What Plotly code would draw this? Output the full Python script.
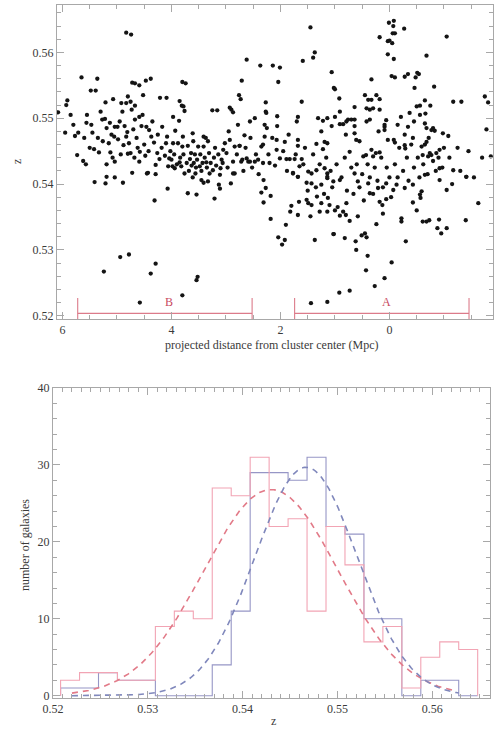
import numpy as np
import plotly.graph_objects as go

# ---------------- data: scatter (projected distance [Mpc], redshift) ----------------
dist = [
 4.83,4.74,2.62,5.65,5.36,4.47,4.38,4.72,4.67,4.59,3.80,3.74,2.71,5.48,5.39,4.80,4.52,4.21,4.09,5.91,
 5.93,6.08,5.07,5.21,4.92,4.83,4.75,2.76,2.73,4.67,4.73,3.85,3.81,3.78,3.76,3.25,3.16,2.93,2.90,2.87,
 4.59,4.67,4.53,3.97,3.86,5.27,5.22,5.13,5.56,5.19,5.04,4.99,5.71,5.77,5.45,
 5.73,5.62,5.57,5.42,5.26,5.12,5.19,5.04,5.05,4.81,4.83,4.88,4.80,4.75,4.72,4.58,4.59,4.46,4.41,4.37,
 4.26,4.29,4.45,4.17,4.08,3.97,4.04,4.06,3.98,3.94,3.85,3.82,3.76,3.93,3.79,3.80,3.60,3.64,3.61,3.51,
 3.41,3.41,3.37,3.33,3.59,3.48,3.36,3.30,3.24,3.11,3.10,3.06,2.99,3.05,2.93,2.84,2.75,2.66,2.87,2.84,
 2.72,2.59,
 5.41,5.21,5.19,5.04,4.89,4.43,4.29,4.07,4.31,3.70,3.54,3.61,3.56,3.45,3.41,3.33,3.21,3.13,3.11,2.91,
 2.87,5.24,4.94,4.78,4.29,4.38,3.52,3.54,3.80,4.58,
 1.45,0.01,-0.08,-0.07,-0.27,-0.06,-0.10,0.18,0.03,0.00,-0.05,-1.05,1.37,1.40,1.59,0.03,-0.08,-0.68,
 2.37,2.14,2.01,1.06,-0.04,-0.10,-0.28,-0.34,-0.48,-0.51,-0.54,0.33,2.04,-0.82,-0.46,1.02,1.00,0.92,
 2.27,1.61,-1.17,-1.32,-1.75,-1.81,0.45,0.24,0.39,0.33,0.18,-0.65,-0.56,-0.75,-0.50,0.64,0.30,0.36,
 0.42,0.18,0.91,2.27,2.26,2.56,2.47,2.06,2.06,1.68,1.31,1.22,1.14,1.00,0.76,0.70,0.64,-0.21,-0.37,
 -0.56,-0.66,0.85,0.64,0.42,0.36,0.06,0.09,-0.34,-0.65,-0.68,-0.80,-0.83,-0.98,-1.08,-1.78,-1.86,
 2.29,2.25,2.75,2.70,2.35,2.32,2.29,2.07,2.07,1.92,1.68,1.68,1.34,1.19,1.14,1.22,1.06,0.91,0.79,
 0.64,0.61,0.73,0.48,0.43,0.33,0.30,0.25,0.18,0.09,0.09,0.03,-0.08,-0.10,-0.28,-0.28,-0.29,-0.43,
 -0.59,-0.65,-0.68,-0.74,-0.77,-0.77,-0.86,-0.92,-0.71,-0.61,-1.17,-1.41,-0.92,2.62,2.56,2.47,2.41,
 2.32,2.20,2.01,1.89,1.83,1.74,1.61,1.65,1.77,1.68,1.49,1.43,1.34,1.19,1.14,1.14,
 2.31,2.27,2.35,2.18,2.31,2.18,1.90,2.04,1.92,1.97,1.80,1.82,1.68,1.66,1.52,1.49,1.45,1.37,1.10,
 1.00,1.13,0.91,0.85,0.73,0.80,1.02,0.82,0.62,0.61,0.51,0.45,0.42,0.40,0.43,0.27,0.24,0.09,-0.04,
 0.12,0.13,-0.22,-0.22,-0.30,-0.43,-0.50,-0.57,-0.61,-0.68,-0.73,-0.91,-0.88,-0.95,-1.05,-1.40,-1.63,
 0.92,0.73,1.14,1.44,1.03,
 1.77,1.68,1.52,1.43,1.25,1.14,1.03,0.91,0.64,0.58,0.39,0.36,0.21,0.06,-0.07,-0.13,-0.28,-0.43,-0.59,
 -0.65,-0.92,-1.05,-1.41,1.33,1.25,1.43,1.28,1.14,0.79,0.58,0.06,0.18,-0.56,
 5.95,5.85,5.80,5.60,5.55,5.50,5.47,5.35,5.33,5.30,5.15,5.10,5.08,4.98,4.95,4.93,4.90,4.86,4.78,4.70,
 4.68,4.64,4.62,4.55,4.50,4.48,4.42,4.35,4.32,4.25,4.22,4.18,4.12,4.10,4.02,4.00,3.95,3.90,3.88,3.84,
 3.78,3.72,3.70,3.68,3.66,3.63,3.57,3.55,3.53,3.47,3.45,3.43,3.39,3.35,3.31,3.28,3.22,3.20,3.18,3.14,
 3.08,3.02,2.97,2.95,2.80,2.78,2.68,2.64,2.55,2.52,
 2.45,2.40,2.22,2.15,2.10,1.95,1.88,1.85,1.72,1.58,1.55,1.50,1.40,1.35,1.28,1.20,1.16,1.08,1.05,0.97,
 0.95,0.88,0.82,0.78,0.70,0.66,0.60,0.55,0.50,0.47,0.40,0.36,0.30,0.27,0.22,0.15,0.12,0.05,0.00,-0.03,
 -0.10,-0.15,-0.18,-0.25,-0.32,-0.35,-0.40,-0.45,-0.52,-0.55,-0.62,-0.70,-0.72,-0.80,-0.85,-0.90,-0.97,
 -1.00,-1.10,-1.15,-1.25,-1.30,-1.45,-1.55,-1.70,0.80,0.55,0.20,-0.15,-0.45,1.25,1.70,
]
redshift = [
 0.5630,0.5627,0.5589,0.5562,0.5560,0.5557,0.5560,0.5554,0.5553,0.5550,0.5555,0.5553,0.5557,0.5542,0.5542,0.5533,0.5535,0.5531,0.5531,0.5527,
 0.5520,0.5509,0.5529,0.5524,0.5523,0.5523,0.5525,0.5535,0.5529,0.5519,0.5513,0.5526,0.5519,0.5518,0.5511,0.5512,0.5512,0.5516,0.5513,0.5509,
 0.5502,0.5498,0.5505,0.5502,0.5496,0.5498,0.5499,0.5493,0.5493,0.5485,0.5487,0.5487,0.5478,0.5473,0.5478,
 0.5444,0.5435,0.5430,0.5453,0.5465,0.5448,0.5430,0.5434,0.5472,0.5479,0.5472,0.5459,0.5446,0.5447,0.5417,0.5449,0.5434,0.5487,0.5482,0.5472,
 0.5447,0.5429,0.5416,0.5487,0.5472,0.5462,0.5439,0.5427,0.5427,0.5424,0.5433,0.5427,0.5416,0.5481,0.5472,0.5457,0.5465,0.5447,0.5477,0.5457,
 0.5457,0.5472,0.5470,0.5465,0.5432,0.5427,0.5433,0.5416,0.5421,0.5414,0.5424,0.5432,0.5447,0.5452,0.5467,0.5457,0.5458,0.5474,0.5434,0.5416,
 0.5434,0.5434,
 0.5403,0.5401,0.5411,0.5410,0.5402,0.5417,0.5415,0.5393,0.5375,0.5386,0.5384,0.5410,0.5416,0.5406,0.5402,0.5404,0.5378,0.5399,0.5393,0.5401,
 0.5416,0.5267,0.5289,0.5293,0.5279,0.5264,0.5259,0.5254,0.5231,0.5220,
 0.5638,0.5645,0.5648,0.5640,0.5636,0.5629,0.5629,0.5623,0.5617,0.5618,0.5614,0.5624,0.5600,0.5592,0.5587,0.5597,0.5590,0.5595,
 0.5580,0.5580,0.5577,0.5570,0.5564,0.5562,0.5563,0.5567,0.5562,0.5569,0.5567,0.5559,0.5555,0.5548,0.5546,0.5546,0.5544,0.5530,
 0.5524,0.5525,0.5525,0.5525,0.5533,0.5524,0.5535,0.5535,0.5528,0.5528,0.5529,0.5527,0.5519,0.5519,0.5518,0.5517,0.5515,0.5513,
 0.5515,0.5513,0.5510,0.5510,0.5508,0.5495,0.5500,0.5503,0.5488,0.5502,0.5500,0.5496,0.5500,0.5502,0.5498,0.5498,0.5498,0.5502,0.5508,
 0.5505,0.5507,0.5491,0.5488,0.5495,0.5498,0.5497,0.5490,0.5487,0.5492,0.5485,0.5485,0.5481,0.5477,0.5473,0.5483,0.5442,
 0.5490,0.5485,0.5458,0.5437,0.5457,0.5460,0.5472,0.5467,0.5452,0.5464,0.5467,0.5458,0.5461,0.5464,0.5462,0.5453,0.5488,0.5491,0.5495,
 0.5477,0.5467,0.5449,0.5442,0.5444,0.5452,0.5442,0.5447,0.5448,0.5487,0.5482,0.5467,0.5467,0.5463,0.5475,0.5459,0.5454,0.5470,
 0.5457,0.5460,0.5464,0.5447,0.5482,0.5444,0.5447,0.5452,0.5442,0.5444,0.5421,0.5411,0.5424,0.5439,0.5434,0.5434,0.5437,
 0.5432,0.5432,0.5439,0.5438,0.5438,0.5438,0.5438,0.5427,0.5416,0.5411,0.5419,0.5416,0.5421,0.5424,0.5416,0.5409,
 0.5406,0.5394,0.5387,0.5382,0.5372,0.5347,0.5338,0.5319,0.5315,0.5308,0.5367,0.5358,0.5353,0.5373,0.5376,0.5371,0.5351,0.5315,0.5368,
 0.5360,0.5379,0.5352,0.5358,0.5344,0.5353,0.5324,0.5318,0.5313,0.5300,0.5322,0.5325,0.5319,0.5291,0.5269,0.5245,0.5339,0.5257,0.5281,
 0.5355,0.5368,0.5348,0.5343,0.5313,0.5372,0.5360,0.5379,0.5343,0.5343,0.5345,0.5346,0.5333,0.5325,0.5333,0.5345,0.5371,
 0.5235,0.5238,0.5221,0.5219,0.5324,
 0.5417,0.5411,0.5402,0.5401,0.5399,0.5411,0.5404,0.5406,0.5416,0.5404,0.5401,0.5386,0.5394,0.5401,0.5391,0.5399,0.5394,0.5399,0.5389,
 0.5414,0.5406,0.5391,0.5411,0.5381,0.5371,0.5368,0.5358,0.5358,0.5371,0.5351,0.5377,0.5373,0.5384,
 0.5478,0.5505,0.5490,0.5470,0.5505,0.5455,0.5490,0.5470,0.5448,0.5510,0.5462,0.5475,0.5440,0.5468,0.5495,0.5445,0.5510,0.5488,0.5462,0.5483,
 0.5440,0.5470,0.5455,0.5488,0.5460,0.5443,0.5450,0.5495,0.5463,0.5475,0.5438,0.5455,0.5443,0.5462,0.5450,0.5437,0.5445,0.5430,0.5462,0.5440,
 0.5445,0.5432,0.5458,0.5420,0.5438,0.5428,0.5445,0.5425,0.5437,0.5445,0.5420,0.5432,0.5440,0.5425,0.5447,0.5432,0.5440,0.5455,0.5428,0.5445,
 0.5437,0.5462,0.5425,0.5480,0.5445,0.5490,0.5420,0.5455,0.5470,0.5425,
 0.5445,0.5415,0.5445,0.5470,0.5428,0.5450,0.5420,0.5475,0.5445,0.5430,0.5455,0.5390,0.5445,0.5395,0.5430,0.5385,0.5440,0.5420,0.5395,0.5430,
 0.5365,0.5410,0.5440,0.5390,0.5425,0.5385,0.5430,0.5395,0.5415,0.5375,0.5430,0.5410,0.5385,0.5425,0.5405,0.5440,0.5395,0.5425,0.5410,0.5380,
 0.5430,0.5410,0.5455,0.5420,0.5440,0.5405,0.5460,0.5425,0.5440,0.5410,0.5430,0.5415,0.5470,0.5435,0.5420,0.5440,0.5425,
 0.5455,0.5440,0.5400,0.5455,0.5420,0.5450,0.5410,0.5440,0.5475,0.5465,0.5480,0.5490,0.5495,0.5480,0.5495,
]

# regions marked along the bottom of the top panel
region_names = ["B", "A"]
region_start = [5.72, 1.74]
region_end = [2.52, -1.46]
region_label_d = [4.05, 0.05]

# ---------------- data: histograms (number of galaxies per redshift bin) ----------------
bin_edges = [0.5208, 0.5228, 0.5248, 0.5268, 0.5288, 0.5308, 0.5328, 0.5348, 0.5368, 0.5388,
             0.5408, 0.5428, 0.5448, 0.5468, 0.5488, 0.5508, 0.5528, 0.5548, 0.5568, 0.5588,
             0.5608, 0.5628, 0.5648]
counts_red = [2, 3, 3, 2, 2, 9, 11, 10, 27, 26, 31, 22, 23, 11, 22, 17, 7, 9, 1, 5, 7, 6]
counts_blue = [1, 1, 3, 2, 2, 0, 0, 0, 4, 11, 29, 29, 28, 31, 22, 21, 10, 10, 0, 2, 2, 0]

# gaussian fits: peak, centre, sigma, z-span
fit_red = dict(peak=26.8, center=0.5430, sigma=0.0071, zmin=0.5220, zmax=0.5625)
fit_blue = dict(peak=29.7, center=0.5467, sigma=0.0054, zmin=0.5220, zmax=0.5628)

# ---------------- styling ----------------
W, H = 497, 730
FONT = "Liberation Serif"
TXT = "#3a3a3a"
AX = "#a8a8a8"
RED_H = "#f2a4b4"
BLUE_H = "#9696c6"
RED_F = "#e27a88"
BLUE_F = "#8088bc"
REG = "#dc7b8a"

def px(x):
    return x / W

def py(y):
    return 1 - y / H

fig = go.Figure()

# top scatter
fig.add_trace(go.Scatter(x=dist, y=redshift, mode="markers", xaxis="x", yaxis="y",
                         marker=dict(size=4.3, color="#141414"), showlegend=False, hoverinfo="skip"))

# region brackets
z_axis_bottom = 0.5195
for s, e in zip(region_start, region_end):
    fig.add_trace(go.Scatter(
        x=[s, s, None, s, e, None, e, e],
        y=[z_axis_bottom, 0.5227, None, 0.52035, 0.52035, None, z_axis_bottom, 0.5227],
        mode="lines", xaxis="x", yaxis="y", line=dict(color=REG, width=1.1),
        showlegend=False, hoverinfo="skip"))
for name, xd in zip(region_names, region_label_d):
    fig.add_annotation(x=xd, y=0.5221, xref="x", yref="y", text=name, showarrow=False,
                       xanchor="center", yanchor="middle",
                       font=dict(family=FONT, size=12, color="#c84a5e"))

# histograms (closed step outlines)
def step_xy(edges, counts):
    xs = [edges[0]] + list(edges[:-1]) + [edges[-1]]
    ys = [0] + list(counts) + [0]
    return xs, ys

for counts, col in ((counts_blue, BLUE_H), (counts_red, RED_H)):
    xs, ys = step_xy(bin_edges, counts)
    fig.add_trace(go.Scatter(x=xs, y=ys, mode="lines", line=dict(color=col, width=1.1, shape="hv"),
                             xaxis="x2", yaxis="y2", showlegend=False, hoverinfo="skip"))

for fit, col in ((fit_red, RED_F), (fit_blue, BLUE_F)):
    zz = np.linspace(fit["zmin"], fit["zmax"], 300)
    gg = fit["peak"] * np.exp(-0.5 * ((zz - fit["center"]) / fit["sigma"]) ** 2)
    fig.add_trace(go.Scatter(x=zz, y=gg, mode="lines", line=dict(color=col, width=1.6, dash="6px,5px"),
                             xaxis="x2", yaxis="y2", showlegend=False, hoverinfo="skip"))

tickfont = dict(family=FONT, size=12, color=TXT)
common = dict(showgrid=False, zeroline=False, showline=True, linecolor=AX, linewidth=1,
              ticks="inside", tickcolor=AX, tickwidth=1, mirror="allticks", tickfont=tickfont,
              automargin=False)

fig.update_layout(
    width=W, height=H, margin=dict(l=0, r=0, t=0, b=0, autoexpand=False),
    paper_bgcolor="white", plot_bgcolor="white", showlegend=False,
    xaxis=dict(domain=[px(57), px(493)], anchor="y", range=[6.1, -1.9],
               tickvals=[6, 4, 2, 0], ticktext=["6", "4", "2", "0"], ticklen=7,
               minor=dict(ticks="inside", dtick=0.5, tick0=0, ticklen=4, tickcolor=AX), **common),
    yaxis=dict(domain=[py(319), py(5)], anchor="x", range=[z_axis_bottom, 0.5672],
               tickvals=[0.52, 0.53, 0.54, 0.55, 0.56], ticktext=["0.52", "0.53", "0.54", "0.55", "0.56"],
               ticklen=7, minor=dict(ticks="inside", dtick=0.002, tick0=0.52, ticklen=4, tickcolor=AX),
               **common),
    xaxis2=dict(domain=[px(53), px(490)], anchor="y2", range=[0.52, 0.5661],
                tickvals=[0.52, 0.53, 0.54, 0.55, 0.56], ticktext=["0.52", "0.53", "0.54", "0.55", "0.56"],
                ticklen=7, minor=dict(ticks="inside", dtick=0.001, tick0=0.52, ticklen=4, tickcolor=AX),
                **common),
    yaxis2=dict(domain=[py(698), py(388)], anchor="x2", range=[-0.3, 40],
                tickvals=[0, 10, 20, 30, 40], ticktext=["0", "10", "20", "30", "40"], ticklen=7,
                minor=dict(ticks="inside", dtick=2, tick0=0, ticklen=4, tickcolor=AX), **common),
)

titlefont = dict(family=FONT, size=12, color=TXT)
for txt, x, y, ang in (("projected distance from cluster center (Mpc)", 272, 345, 0),
                       ("z", 17, 162, -90),
                       ("number of galaxies", 25, 545, -90),
                       ("z", 273, 721, 0)):
    fig.add_annotation(x=px(x), y=py(y), xref="paper", yref="paper", showarrow=False,
                       xanchor="center", yanchor="middle", text=txt, textangle=ang, font=titlefont)

fig.write_html("out.html")
